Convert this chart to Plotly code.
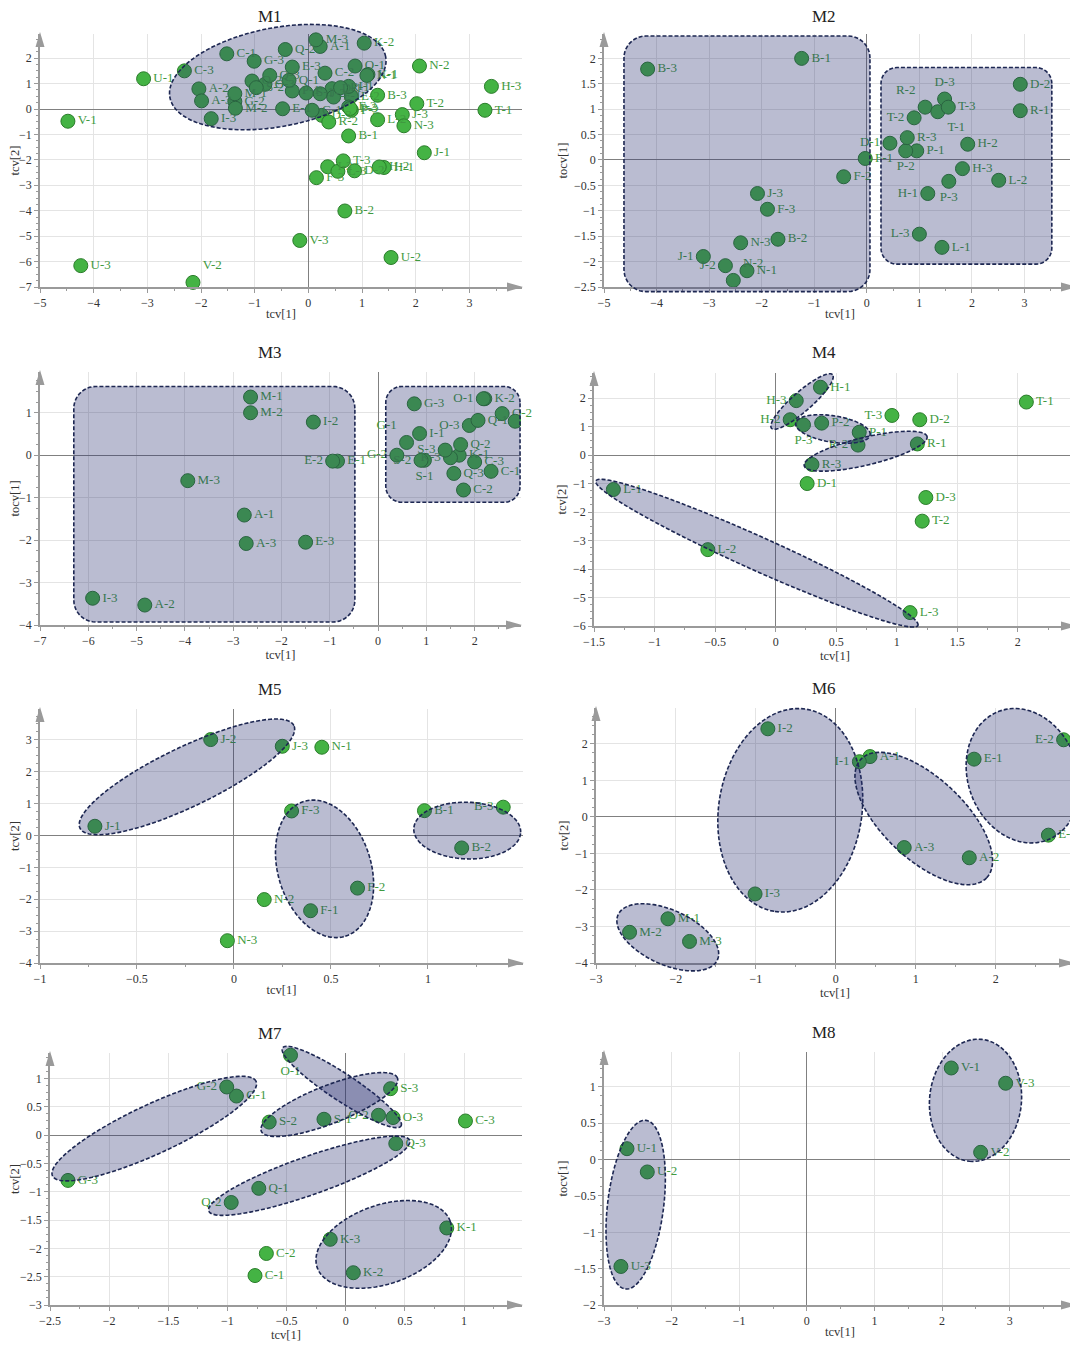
import numpy as np
import plotly.graph_objects as go

W, H = 1078, 1345
PAGE_PAD = 8          # default body margin of the written html page
FW, FH = W - PAGE_PAD, H - PAGE_PAD
SERIF = "Liberation Serif"

# ---------------- data ----------------
M1_LABELS = ["A-1", "A-2", "A-3", "B-1", "B-2", "B-3", "C-1", "C-2", "C-3",
             "D-1", "D-2", "D-3", "E-1", "E-2", "E-3", "F-1", "F-2", "F-3",
             "G-1", "G-2", "G-3", "H-1", "H-2", "H-3", "I-1", "I-2", "I-3",
             "J-1", "J-2", "J-3", "K-1", "K-2", "L-2", "L-3",
             "M-1", "M-2", "M-3", "N-1", "N-2", "N-3", "O-1", "O-2", "O-3",
             "P-1", "P-2", "P-3", "Q-1", "Q-2", "Q-3", "R-1", "R-2", "S-1", "S-2",
             "T-1", "T-2", "T-3", "U-1", "U-2", "U-3", "V-1", "V-2", "V-3"]
M1_X = [0.22, -2.04, -1.99, 0.75, 0.68, 1.29, -1.52, 0.31, -2.31,
        0.44, 0.86, 0.25, -0.48, 0.80, -0.30, 0.47, 0.75, 0.15,
        0.07, -1.37, -1.01, 1.41, 1.32, 3.41, 0.75, 0.36, -1.81,
        2.16, 0.22, 1.75, 1.11, 1.04, 1.29, 0.55,
        -1.37, -1.36, 0.14, 1.09, 2.07, 1.78, 0.87, -1.05, -0.81,
        -0.30, 0.80, 0.78, -0.36, -0.43, -0.72, 0.60, 0.38, -0.04, -0.97,
        3.29, 2.02, 0.65, -3.07, 1.54, -4.24, -4.48, -2.15, -0.16]
M1_Y = [2.46, 0.79, 0.32, -1.06, -4.01, 0.54, 2.17, 1.41, 1.50,
        0.80, -2.43, -0.25, 0.01, 0.50, 1.65, 0.47, 0.08, -2.70,
        -0.05, 0.30, 1.88, -2.30, -2.28, 0.89, 0.89, -2.27, -0.38,
        -1.72, 0.60, -0.22, 1.36, 2.59, -0.42, -2.45,
        0.60, 0.03, 2.72, 1.32, 1.69, -0.66, 1.69, 1.10, 0.97,
        0.71, -0.05, 0.02, 1.13, 2.34, 1.32, 0.84, -0.51, 0.63, 0.84,
        -0.05, 0.21, -2.04, 1.19, -5.84, -6.16, -0.48, -6.82, -5.17]
M1_ELLIPSES = [((-2.58, 0.45), (1.44, 2.06), 0.45)]

M2_LABELS = ["B-1", "B-2", "B-3", "F-1", "F-2", "F-3", "J-1", "J-2", "J-3",
             "N-1", "N-2", "N-3", "D-1", "D-2", "D-3", "H-1", "H-2", "H-3",
             "L-1", "L-2", "L-3", "P-1", "P-2", "P-3", "R-1", "R-2", "R-3",
             "T-1", "T-2", "T-3"]
M2_X = [-1.24, -1.69, -4.17, -0.03, -0.44, -1.89, -3.11, -2.69, -2.08,
        -2.28, -2.54, -2.40, 0.44, 2.92, 1.48, 1.16, 1.92, 1.82,
        1.43, 2.51, 1.00, 0.95, 0.74, 1.56, 2.92, 1.11, 0.77,
        1.35, 0.90, 1.55]
M2_Y = [2.00, -1.56, 1.79, 0.03, -0.33, -0.97, -1.90, -2.08, -0.66,
        -2.18, -2.37, -1.63, 0.33, 1.49, 1.20, -0.66, 0.31, -0.17,
        -1.72, -0.40, -1.46, 0.18, 0.18, -0.42, 0.97, 1.04, 0.44,
        0.95, 0.83, 1.04]
M2_BOXES = [(-4.62, 0.06, -2.59, 2.44), (0.27, 3.52, -2.05, 1.82)]

M3_LABELS = ["A-1", "A-2", "A-3", "E-1", "E-2", "E-3", "I-1", "I-2", "I-3",
             "M-1", "M-2", "M-3", "C-1", "C-2", "C-3", "G-1", "G-2", "G-3",
             "K-1", "K-2", "K-3", "O-1", "O-2", "O-3", "Q-1", "Q-2", "Q-3",
             "S-1", "S-2", "S-3"]
M3_X = [-2.77, -4.83, -2.73, -0.84, -0.94, -1.50, 0.86, -1.34, -5.91,
        -2.64, -2.64, -3.94, 2.34, 1.77, 2.00, 0.59, 0.39, 0.75,
        1.68, 2.21, 1.50, 2.18, 2.57, 1.89, 2.07, 1.71, 1.57,
        0.96, 0.89, 1.39]
M3_Y = [-1.41, -3.53, -2.08, -0.14, -0.14, -2.05, 0.51, 0.78, -3.37,
        1.37, 1.00, -0.60, -0.38, -0.82, -0.16, 0.30, 0.00, 1.21,
        0.00, 1.33, -0.06, 1.33, 0.98, 0.70, 0.82, 0.25, -0.43,
        -0.12, -0.12, 0.12]
M3_EXTRA_X = [2.84]
M3_EXTRA_Y = [0.80]
M3_BOXES = [(-6.30, -0.48, -3.93, 1.62), (0.16, 2.94, -1.11, 1.62)]

M4_LABELS = ["D-1", "D-2", "D-3", "H-1", "H-2", "H-3", "L-1", "L-2", "L-3",
             "P-1", "P-2", "P-3", "R-1", "R-2", "R-3", "T-1", "T-2", "T-3"]
M4_X = [0.26, 1.19, 1.24, 0.37, 0.12, 0.17, -1.34, -0.56, 1.11,
        0.69, 0.38, 0.23, 1.17, 0.68, 0.30, 2.07, 1.21, 0.96]
M4_Y = [-1.00, 1.24, -1.49, 2.38, 1.24, 1.91, -1.21, -3.32, -5.53,
        0.80, 1.12, 1.06, 0.39, 0.35, -0.33, 1.86, -2.32, 1.39]
M4_ELLIPSES = [((-0.034, 0.94), (0.47, 2.82), 0.24),
               ((0.165, 1.12), (0.78, 0.71), 0.35),
               ((0.236, -0.38), (1.25, 0.65), 0.22),
               ((-1.485, -0.906), (1.175, -5.98), 0.095)]

M5_LABELS = ["B-1", "B-2", "B-3", "F-1", "F-2", "F-3", "J-1", "J-2", "J-3",
             "N-1", "N-2", "N-3"]
M5_X = [0.982, 1.174, 1.388, 0.395, 0.637, 0.297, -0.717, -0.12, 0.249,
        0.453, 0.156, -0.034]
M5_Y = [0.78, -0.39, 0.89, -2.36, -1.65, 0.77, 0.29, 3.01, 2.80,
        2.77, -2.01, -3.30]
M5_ELLIPSES = [((-0.794, 0.23), (0.309, 3.45), 0.25),
               ((0.360, 1.07), (0.574, -3.16), 0.66),
               ((0.927, 0.21), (1.478, 0.10), 0.53)]

M6_LABELS = ["A-1", "A-2", "A-3", "E-1", "E-2", "E-3", "I-1", "I-2", "I-3",
             "M-1", "M-2", "M-3"]
M6_X = [0.428, 1.67, 0.856, 1.73, 2.85, 2.66, 0.295, -0.85, -1.01,
        -2.10, -2.58, -1.83]
M6_Y = [1.65, -1.12, -0.84, 1.58, 2.11, -0.50, 1.51, 2.41, -2.11,
        -2.79, -3.16, -3.41]
M6_ELLIPSES = [((-0.377, 2.95), (-0.762, -2.59), 0.70),
               ((0.313, 1.575), (1.888, -1.667), 0.47),
               ((2.042, 2.89), (2.641, -0.638), 0.80),
               ((-2.723, -2.677), (-1.481, -3.917), 0.50)]

M7_LABELS = ["C-1", "C-2", "C-3", "G-1", "G-2", "G-3", "K-1", "K-2", "K-3",
             "O-1", "O-2", "O-3", "Q-1", "Q-2", "Q-3", "S-1", "S-2", "S-3"]
M7_X = [-0.767, -0.671, 1.012, -0.924, -1.006, -2.348, 0.854, 0.064, -0.131,
        -0.467, 0.277, 0.40, -0.735, -0.968, 0.423, -0.184, -0.647, 0.379]
M7_Y = [-2.48, -2.09, 0.25, 0.69, 0.85, -0.80, -1.64, -2.43, -1.84,
        1.41, 0.35, 0.31, -0.94, -1.19, -0.15, 0.28, 0.23, 0.82]
M7_ELLIPSES = [((-2.479, -0.72), (-0.758, 0.95), 0.22),
               ((-0.534, 1.54), (0.467, 0.16), 0.19),
               ((-0.714, 0.07), (0.437, 1.01), 0.26),
               ((-1.158, -1.34), (0.540, -0.094), 0.18),
               ((-0.241, -2.34), (0.883, -1.52), 0.56)]

M8_LABELS = ["U-1", "U-2", "U-3", "V-1", "V-2", "V-3"]
M8_X = [-2.66, -2.36, -2.75, 2.135, 2.57, 2.94]
M8_Y = [0.15, -0.17, -1.47, 1.26, 0.10, 1.05]
M8_ELLIPSES = [((-2.379, 0.54), (-2.684, -1.78), 0.33),
               ((2.583, 1.654), (2.405, -0.023), 0.75)]

# ---------------- layout / style ----------------
# name, page pixel box (left, right, top, bottom), x range, y range, x dtick, y dtick, y title
PANELS = [
    ("M1", (40, 522, 34, 287), (-5, 3.98), (-7, 2.95), 1, 1, "tcv[2]"),
    ("M2", (604, 1076, 34, 287), (-5, 3.98), (-2.5, 2.48), 1, 0.5, "tocv[1]"),
    ("M3", (40, 521, 372, 625), (-7, 2.96), (-4, 1.96), 1, 1, "tocv[1]"),
    ("M4", (594, 1076, 373, 626), (-1.5, 2.48), (-6, 2.88), 0.5, 1, "tcv[2]"),
    ("M5", (40, 523, 709, 963), (-1, 1.49), (-4, 3.97), 0.5, 1, "tcv[2]"),
    ("M6", (596, 1074, 708, 963), (-3, 2.98), (-4, 2.98), 1, 1, "tcv[2]"),
    ("M7", (50, 522, 1053, 1305), (-2.5, 1.49), (-3, 1.45), 0.5, 0.5, "tcv[2]"),
    ("M8", (604, 1076, 1052, 1305), (-3, 3.98), (-2, 1.48), 1, 0.5, "tocv[1]"),
]
TITLE_X = {0: 270, 1: 824}

DATA = {
    "M1": (M1_LABELS, M1_X, M1_Y), "M2": (M2_LABELS, M2_X, M2_Y),
    "M3": (M3_LABELS, M3_X, M3_Y), "M4": (M4_LABELS, M4_X, M4_Y),
    "M5": (M5_LABELS, M5_X, M5_Y), "M6": (M6_LABELS, M6_X, M6_Y),
    "M7": (M7_LABELS, M7_X, M7_Y), "M8": (M8_LABELS, M8_X, M8_Y),
}
ELLIPSES = {"M1": M1_ELLIPSES, "M4": M4_ELLIPSES, "M5": M5_ELLIPSES,
            "M6": M6_ELLIPSES, "M7": M7_ELLIPSES, "M8": M8_ELLIPSES}
BOXES = {"M2": M2_BOXES, "M3": M3_BOXES}

TEXTPOS = {
    "M1": {"V-2": "top right"},
    "M2": {"J-1": "middle left", "D-1": "middle left", "T-2": "middle left",
           "L-3": "middle left", "H-1": "middle left", "J-2": "middle left",
           "R-2": "top left", "D-3": "top center", "T-1": "bottom right",
           "P-2": "bottom center", "P-3": "bottom center", "N-2": "top right"},
    "M3": {"E-2": "middle left", "G-2": "middle left", "O-1": "middle left",
           "O-3": "middle left", "S-3": "middle left", "S-2": "middle left",
           "G-1": "top left", "S-1": "bottom center", "K-3": "middle left"},
    "M4": {"H-3": "middle left", "H-2": "middle left", "R-2": "middle left",
           "T-3": "middle left", "P-3": "bottom center"},
    "M5": {"B-3": "middle left"},
    "M6": {"I-1": "middle left", "E-2": "middle left"},
    "M7": {"O-1": "bottom center", "G-2": "middle left", "O-2": "middle left",
           "Q-2": "middle left"},
    "M8": {},
}

MARKER_FILL = "#44b344"
MARKER_LINE = "#2b7d2b"
LABEL_COLOR = "#3f9a3f"
REGION_FILL = "rgba(40, 46, 112, 0.32)"
REGION_LINE = "#1d2752"
REGION_DASH = "4px,2px"
AXIS_GREY = "#9a9a9a"


def px_x(v):
    return (v - PAGE_PAD) / FW


def px_y(v):
    return 1 - (v - PAGE_PAD) / FH


def to_paper(xs, ys, box, xr, yr):
    # data -> page pixels -> paper, so that regions are not clipped to the plot area
    l, r, t, b = box
    sx = (r - l) / (xr[1] - xr[0])
    sy = (b - t) / (yr[1] - yr[0])
    return [px_x(l + (x - xr[0]) * sx) for x in xs], [px_y(b - (y - yr[0]) * sy) for y in ys]


def polygon_path(xs, ys):
    pts = [f"{x:.5f},{y:.5f}" for x, y in zip(xs, ys)]
    return "M" + " L".join(pts) + " Z"


def ellipse_points(p1, p2, ratio, sx, sy, n=100):
    # work in screen units so the ellipse keeps its on-screen shape
    u1, v1 = p1[0] * sx, p1[1] * sy
    u2, v2 = p2[0] * sx, p2[1] * sy
    cu, cv = (u1 + u2) / 2, (v1 + v2) / 2
    du, dv = (u2 - u1) / 2, (v2 - v1) / 2
    nu, nv = -dv * ratio, du * ratio
    t = np.linspace(0, 2 * np.pi, n, endpoint=False)
    us = cu + du * np.cos(t) + nu * np.sin(t)
    vs = cv + dv * np.cos(t) + nv * np.sin(t)
    return us / sx, vs / sy


def rounded_rect_points(x0, x1, y0, y1, r_px, sx, sy, n=12):
    rx, ry = r_px / sx, r_px / sy
    corners = [(x1 - rx, y1 - ry, 0), (x0 + rx, y1 - ry, 90),
               (x0 + rx, y0 + ry, 180), (x1 - rx, y0 + ry, 270)]
    xs, ys = [], []
    for cx, cy, a0 in corners:
        for a in np.linspace(np.radians(a0), np.radians(a0 + 90), n):
            xs.append(cx + rx * np.cos(a))
            ys.append(cy + ry * np.sin(a))
    return xs, ys


fig = go.Figure()
shapes = []
annotations = []
layout_axes = {}
marker_style = dict(size=14, color=MARKER_FILL, line=dict(color=MARKER_LINE, width=1))
region_line = dict(color=REGION_LINE, width=1.6, dash=REGION_DASH)

for i, (name, box, xr, yr, xdt, ydt, ytitle) in enumerate(PANELS):
    l, r, t, b = box
    k = "" if i == 0 else str(i + 1)
    labels, xs, ys = DATA[name]
    sx = (r - l) / (xr[1] - xr[0])
    sy = (b - t) / (yr[1] - yr[0])

    pos = [TEXTPOS[name].get(lab, "middle right") for lab in labels]
    fig.add_trace(go.Scatter(
        x=xs, y=ys, text=labels, mode="markers+text", textposition=pos,
        textfont=dict(family=SERIF, size=13, color=LABEL_COLOR),
        marker=marker_style, xaxis="x" + k, yaxis="y" + k,
        showlegend=False, cliponaxis=False, hoverinfo="x+y+text",
    ))
    if name == "M3":
        fig.add_trace(go.Scatter(
            x=M3_EXTRA_X, y=M3_EXTRA_Y, mode="markers", marker=marker_style,
            xaxis="x" + k, yaxis="y" + k, showlegend=False,
        ))

    for p1, p2, ratio in ELLIPSES.get(name, []):
        ex, ey = ellipse_points(p1, p2, ratio, sx, sy)
        px, py = to_paper(ex, ey, box, xr, yr)
        shapes.append(dict(type="path", path=polygon_path(px, py),
                           xref="paper", yref="paper", layer="above",
                           fillcolor=REGION_FILL, line=region_line))
    for j, (x0, x1, y0, y1) in enumerate(BOXES.get(name, [])):
        rad = 22 if j == 0 else 16
        bx, by = rounded_rect_points(x0, x1, y0, y1, rad, sx, sy)
        px, py = to_paper(bx, by, box, xr, yr)
        shapes.append(dict(type="path", path=polygon_path(px, py),
                           xref="paper", yref="paper", layer="above",
                           fillcolor=REGION_FILL, line=region_line))

    # arrow heads at the ends of the axes
    shapes.append(dict(type="path", xref="paper", yref="paper", layer="above",
                       path=f"M{px_x(l)},{px_y(t - 2)} L{px_x(l - 4.5)},{px_y(t + 13)} "
                            f"L{px_x(l + 4.5)},{px_y(t + 13)} Z",
                       fillcolor=AXIS_GREY, line=dict(width=0)))
    shapes.append(dict(type="path", xref="paper", yref="paper", layer="above",
                       path=f"M{px_x(r + 1)},{px_y(b)} L{px_x(r - 15)},{px_y(b - 4.5)} "
                            f"L{px_x(r - 15)},{px_y(b + 4.5)} Z",
                       fillcolor=AXIS_GREY, line=dict(width=0)))

    title_y = max(t - 20, PAGE_PAD + 8)
    annotations.append(dict(text=name, x=px_x(TITLE_X[i % 2]), y=px_y(title_y),
                            xref="paper", yref="paper", showarrow=False,
                            xanchor="center", yanchor="middle",
                            font=dict(family=SERIF, size=17, color="#222")))

    common = dict(showgrid=True, gridcolor="#e4e4e4", gridwidth=1,
                  zeroline=True, zerolinecolor="#808080", zerolinewidth=1,
                  showline=True, linecolor=AXIS_GREY, linewidth=1.5,
                  ticks="outside", ticklen=4, tickcolor=AXIS_GREY, tick0=0,
                  tickfont=dict(family=SERIF, size=12, color="#333"),
                  automargin=False, fixedrange=True)
    layout_axes["xaxis" + k] = dict(
        common, domain=[px_x(l), px_x(r)], range=list(xr), dtick=xdt,
        anchor="y" + k,
        minor=dict(ticks="outside", ticklen=2, tickcolor=AXIS_GREY, dtick=xdt / 2, showgrid=False),
        title=dict(text="tcv[1]", standoff=0, font=dict(family=SERIF, size=12.5, color="#333")),
    )
    layout_axes["yaxis" + k] = dict(
        common, domain=[px_y(b), px_y(t)], range=list(yr), dtick=ydt,
        anchor="x" + k,
        minor=dict(ticks="outside", ticklen=2, tickcolor=AXIS_GREY, dtick=ydt / 4, showgrid=False),
        title=dict(text=ytitle, standoff=4, font=dict(family=SERIF, size=12.5, color="#333")),
    )

fig.update_layout(
    width=FW, height=FH, template="none",
    margin=dict(l=0, r=0, t=0, b=0),
    paper_bgcolor="white", plot_bgcolor="white",
    shapes=shapes, annotations=annotations, showlegend=False,
    font=dict(family=SERIF),
    **layout_axes,
)

fig.write_html("out.html")
